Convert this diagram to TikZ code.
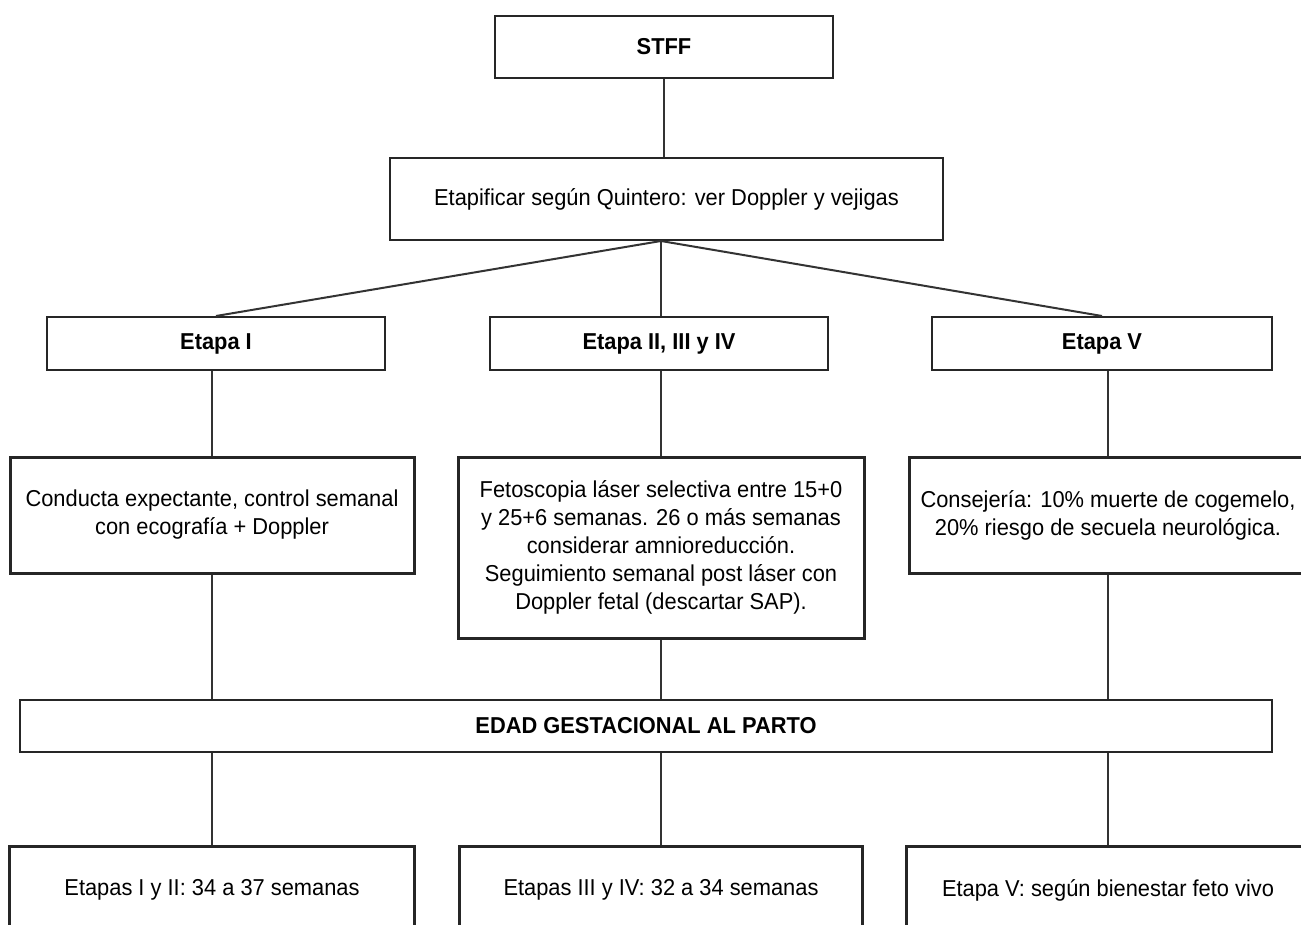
\documentclass[tikz,border=0pt]{standalone}
\usepackage{fontspec}
\setmainfont{Liberation Sans}[FakeStretch=0.95]
\begin{document}
\begin{tikzpicture}[x=0.5pt,y=-0.5pt,
  box/.style={draw=black!85, line width=1pt, fill=white, align=center, inner sep=0pt,
    font=\fontsize{11.5}{14}\selectfont},
  thickbox/.style={box, line width=1.5pt},
  head/.style={box, font=\fontsize{11.5}{14}\selectfont\bfseries},
  conn/.style={draw=black!80, line width=1pt}]
\clip (0,0) rectangle (1301,925);
\fill[white] (0,0) rectangle (1301,925);
% nodes
\node[head, minimum width=169pt, minimum height=31pt] (stff) at (664,47) {STFF};
\node[box, minimum width=276.5pt, minimum height=41pt] (etap) at (666.5,199) {Etapificar según Quintero: ver Doppler y vejigas};
\node[head, minimum width=169pt, minimum height=26.5pt] (e1) at (216,343.5) {Etapa I};
\node[head, minimum width=169pt, minimum height=26.5pt] (e2) at (659,343.5) {Etapa II, III y IV};
\node[head, minimum width=170pt, minimum height=26.5pt] (e5) at (1102,343.5) {Etapa V};
\node[thickbox, minimum width=202pt, minimum height=58pt] (c1) at (212,515) {Conducta expectante, control semanal\\con ecografía + Doppler};
\node[thickbox, minimum width=203pt, minimum height=90.5pt] (c2) at (661,547.5) {Fetoscopia láser selectiva entre 15+0\\y 25+6 semanas. 26 o más semanas\\considerar amnioreducción.\\Seguimiento semanal post láser con\\Doppler fetal (descartar SAP).};
\node[thickbox, minimum width=199pt, minimum height=58pt] (c3) at (1108,515) {Consejería: 10\% muerte de cogemelo,\\20\% riesgo de secuela neurológica.};
\node[head, minimum width=626pt, minimum height=26pt] (edad) at (646,726) {EDAD GESTACIONAL AL PARTO};
\node[thickbox, minimum width=202.5pt, minimum height=44pt] (b1) at (212,890) {Etapas I y II: 34 a 37 semanas};
\node[thickbox, minimum width=201.5pt, minimum height=44pt] (b2) at (661,890) {Etapas III y IV: 32 a 34 semanas};
\node[thickbox, minimum width=201.5pt, minimum height=44pt] (b3) at (1108,890) {Etapa V: según bienestar feto vivo};
% connectors
\draw[conn] (stff.south) -- (stff.south |- etap.north);
\draw[conn] (etap.south -| c2.north) -- (e1.north);
\draw[conn] (etap.south -| c2.north) -- (c2.north |- e2.north);
\draw[conn] (etap.south -| c2.north) -- (e5.north);
\draw[conn] (c1.north |- e1.south) -- (c1.north);
\draw[conn] (c2.north |- e2.south) -- (c2.north);
\draw[conn] (c3.north |- e5.south) -- (c3.north);
\draw[conn] (c1.south) -- (c1.south |- edad.north);
\draw[conn] (c2.south) -- (c2.south |- edad.north);
\draw[conn] (c3.south) -- (c3.south |- edad.north);
\draw[conn] (b1.north |- edad.south) -- (b1.north);
\draw[conn] (b2.north |- edad.south) -- (b2.north);
\draw[conn] (b3.north |- edad.south) -- (b3.north);
\end{tikzpicture}
\end{document}
